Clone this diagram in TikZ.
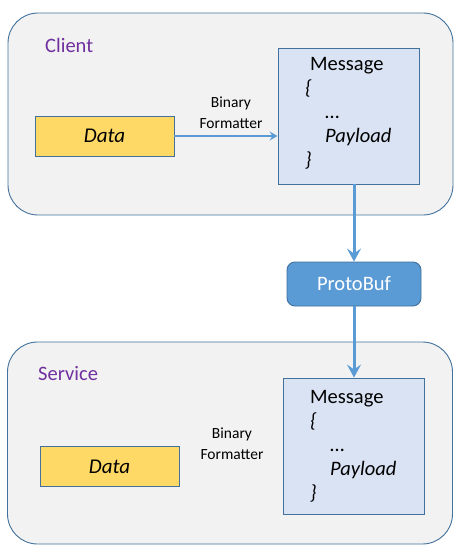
\documentclass[tikz,border=0pt]{standalone}
\usepackage{fontspec}
\setmainfont{Carlito}
\usepackage{tikz}
\usetikzlibrary{arrows.meta}

\definecolor{edgeblue}{HTML}{41719C}
\definecolor{flowblue}{HTML}{5B9BD5}
\definecolor{panelgrey}{HTML}{F2F2F2}
\definecolor{msgfill}{HTML}{DAE3F3}
\definecolor{datafill}{HTML}{FFD966}
\definecolor{labelpurple}{HTML}{7030A0}

\begin{document}
\begin{tikzpicture}[x=1pt,y=-1pt,
  panel/.style={draw=edgeblue, fill=panelgrey, line width=0.9pt, rounded corners=30pt, minimum width=445pt, minimum height=202pt},
  msgbox/.style={draw=edgeblue, fill=msgfill, line width=0.9pt, minimum width=141pt, minimum height=136pt},
  databox/.style={draw=edgeblue, fill=datafill, line width=0.9pt, minimum width=139pt, minimum height=40pt, font=\fontsize{21}{24}\selectfont\itshape},
  sidelabel/.style={text=labelpurple, inner sep=0pt, anchor=west, font=\fontsize{20.5}{24}\selectfont},
  fmtlabel/.style={align=center, inner sep=0pt, font=\fontsize{15.5}{21}\selectfont},
  msgtext/.style={align=left, inner sep=0pt, anchor=north west, font=\fontsize{20.5}{24}\selectfont},
  flow/.style={draw=flowblue, line width=3pt, -{Stealth[length=13pt,width=14pt,inset=5pt]}},
  thinflow/.style={draw=flowblue, line width=2pt, -{Stealth[length=8pt,width=9pt,inset=3pt]}}]

\useasboundingbox (0,0) rectangle (463,558);

% Client side
\node[panel] (client) at (230.5,114) {};
\node[sidelabel] (clientname) at (45,45) {Client};
\node[databox] (clientdata) at (104.5,136) {Data};
\node[msgbox] (clientmsg) at (348.5,116) {};
\node[msgtext] (clientbody) at (305,57) {\hspace*{5pt}Message\\ \textit{\{}\\ \hspace*{20pt}\dots\\ \hspace*{20pt}\textit{Payload}\\ \textit{\}}};
\node[fmtlabel] (clientfmt) at (231,112.5) {Binary\\Formatter};

% Transport
\node[draw=edgeblue, fill=flowblue, line width=0.9pt, rounded corners=8pt, minimum width=134pt, minimum height=44pt, text=white, font=\fontsize{20.5}{24}\selectfont] (protobuf) at (354,284) {ProtoBuf};

% Service side
\node[panel] (service) at (230,443) {};
\node[sidelabel] (servicename) at (38,374) {Service};
\node[databox] (servicedata) at (109.5,466.5) {Data};
\node[msgbox] (servicemsg) at (353.5,446) {};
\node[msgtext] (servicebody) at (310,390) {\hspace*{0pt}Message\\ \textit{\{}\\ \hspace*{20pt}\dots\\ \hspace*{20pt}\textit{Payload}\\ \textit{\}}};
\node[fmtlabel] (servicefmt) at (232,443.5) {Binary\\Formatter};

% Arrows
\draw[thinflow] (clientdata.east) -- (clientdata.east -| clientmsg.west);
\draw[flow] (protobuf.north |- clientmsg.south) -- (protobuf.north);
\draw[flow] (protobuf.south) -- (protobuf.south |- servicemsg.north);

\end{tikzpicture}
\end{document}
